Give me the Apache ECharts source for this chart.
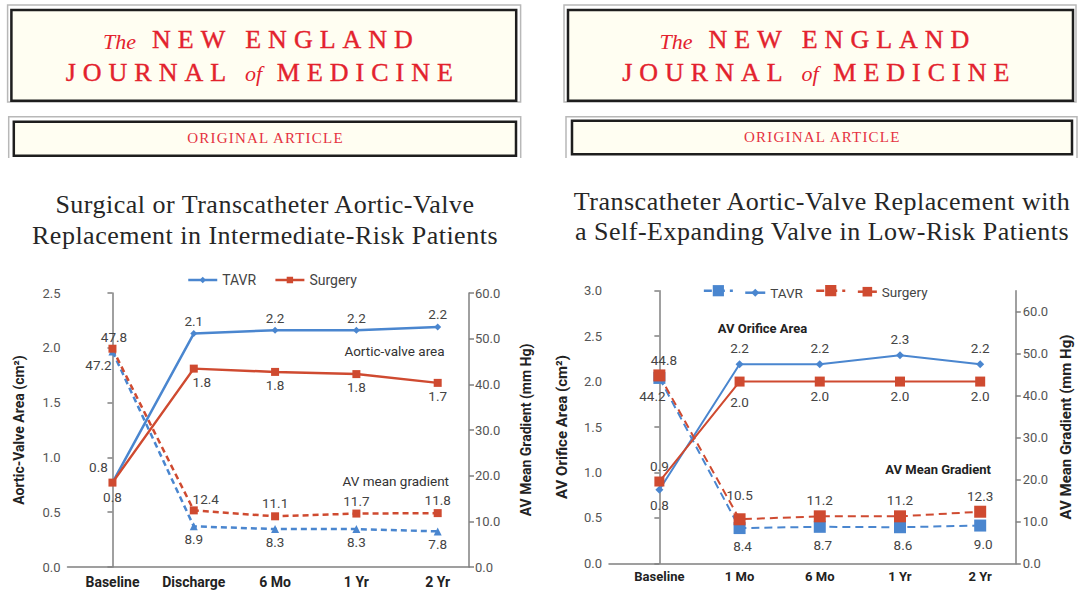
<!DOCTYPE html>
<html><head><meta charset="utf-8">
<script src="https://cdn.jsdelivr.net/npm/echarts@6/dist/echarts.min.js"></script>
<style>
html,body{margin:0;padding:0;background:#fff;}
#c{width:1080px;height:596px;}
text[fill="#e3222d"]{letter-spacing:7px;}
text[fill="#e5323f"]{letter-spacing:1.2px;}
text[fill="#262626"]{letter-spacing:0.5px;}
</style></head><body><div id="c"></div>
<script>
// ---------- Left panel: intermediate-risk patients ----------
const catsL = ['Baseline', 'Discharge', '6 Mo', '1 Yr', '2 Yr'];
const areaTavrL = [0.77, 2.13, 2.16, 2.16, 2.19];
const areaSurgL = [0.77, 1.81, 1.78, 1.76, 1.68];
const gradTavrL = [47.2, 8.9, 8.3, 8.3, 7.8];
const gradSurgL = [47.8, 12.4, 11.1, 11.7, 11.8];
// ---------- Right panel: low-risk patients ----------
const catsR = ['Baseline', '1 Mo', '6 Mo', '1 Yr', '2 Yr'];
const areaTavrR = [0.81, 2.19, 2.19, 2.29, 2.19];
const areaSurgR = [0.9, 2.0, 2.0, 2.0, 2.0];
const gradTavrR = [44.2, 8.4, 8.7, 8.6, 9.0];
const gradSurgR = [44.8, 10.5, 11.2, 11.2, 12.3];
const gradTicksR = [0, 10, 20, 30, 40, 50, 60];

const F = "Roboto, sans-serif";
const SERIF = "'Liberation Serif', serif";
const BLUE = '#4a86cf', RED = '#cf4a30', AX = '#808080';

function pts(vals, place) {
  return vals.map((v, i) => {
    const p = place(i);
    return { value: [i, v], label: { position: p[0], offset: [p[1], p[2]] } };
  });
}
const lab = (size) => ({ show: true, fontSize: size, color: '#444', fontFamily: F, distance: 5,
  formatter: p => p.value[1].toFixed(1) });

function xAxis(gi, cats, min, max, size, margin) {
  return { type: 'value', gridIndex: gi, min: min, max: max,
    splitLine: { show: false }, axisTick: { show: false },
    axisLine: { show: true, onZero: false, lineStyle: { color: AX, width: 1.5 } },
    axisLabel: { customValues: cats.map((c, i) => i), formatter: v => cats[Math.round(v)] || '',
      fontWeight: 'bold', fontSize: size, color: '#222', fontFamily: F, margin: margin } };
}
function yAxis(gi, pos, min, max, interval, name, nameGap, nameSize, extra) {
  const a = { type: 'value', gridIndex: gi, position: pos, min: min, max: max, interval: interval,
    splitLine: { show: false },
    axisLine: { show: true, lineStyle: { color: AX, width: 1.5 } },
    axisTick: { show: true, length: 5, lineStyle: { color: AX, width: 1.5 } },
    axisLabel: { formatter: v => v.toFixed(1), fontSize: 13, color: '#555', fontFamily: F, margin: 7 },
    name: name, nameLocation: 'middle', nameRotate: 90, nameGap: nameGap,
    nameTextStyle: { fontWeight: 'bold', fontSize: nameSize, color: '#222', fontFamily: F } };
  if (extra) { Object.assign(a.axisLabel, extra.axisLabel || {}); Object.assign(a.axisTick, extra.axisTick || {}); }
  return a;
}

const headerText = (dx) => [
  { type: 'text', x: 136 + dx, y: 41, style: { text: 'The', fill: '#e3222e', font: 'italic 22px ' + SERIF, align: 'right', verticalAlign: 'middle' } },
  { type: 'text', x: 152 + dx, y: 39.5, style: { text: 'NEW ENGLAND', fill: '#e3222d', font: '26px ' + SERIF, align: 'left', verticalAlign: 'middle', stroke: '#e3222d', lineWidth: 0.4 } },
  { type: 'text', x: 65.7 + dx, y: 72.2, style: { text: 'JOURNAL', fill: '#e3222d', font: '26px ' + SERIF, align: 'left', verticalAlign: 'middle', stroke: '#e3222d', lineWidth: 0.4 } },
  { type: 'text', x: 245 + dx, y: 73.7, style: { text: 'of', fill: '#e3222e', font: 'italic 22px ' + SERIF, align: 'left', verticalAlign: 'middle' } },
  { type: 'text', x: 276.8 + dx, y: 72.2, style: { text: 'MEDICINE', fill: '#e3222d', font: '26px ' + SERIF, align: 'left', verticalAlign: 'middle', stroke: '#e3222d', lineWidth: 0.4 } }
];
const GRAY = '#b8b8b8', CREAM = '#fffef2', BLACK = '#1e1e1e';
const graphics = [
  // left header
  { type: 'rect', shape: { x: 7.6, y: 5, width: 513, height: 97 }, style: { fill: 'none', stroke: GRAY, lineWidth: 1.5 } },
  { type: 'rect', shape: { x: 11.4, y: 10, width: 504.8, height: 90.7 }, style: { fill: CREAM, stroke: BLACK, lineWidth: 2.5 } },
  { type: 'polyline', shape: { points: [[8.7, 158], [8.7, 116.7], [520.7, 116.7], [520.7, 158]] }, style: { fill: 'none', stroke: GRAY, lineWidth: 1.5 } },
  { type: 'rect', shape: { x: 13.8, y: 121.7, width: 502.2, height: 34 }, style: { fill: CREAM, stroke: BLACK, lineWidth: 2.5 } },
  // right header
  { type: 'rect', shape: { x: 564, y: 5, width: 512, height: 97 }, style: { fill: 'none', stroke: GRAY, lineWidth: 1.5 } },
  { type: 'rect', shape: { x: 568, y: 10, width: 505, height: 90.7 }, style: { fill: CREAM, stroke: BLACK, lineWidth: 2.5 } },
  { type: 'polyline', shape: { points: [[566, 158], [566, 116.7], [1077, 116.7], [1077, 158]] }, style: { fill: 'none', stroke: GRAY, lineWidth: 1.5 } },
  { type: 'rect', shape: { x: 572, y: 120.7, width: 500, height: 33.6 }, style: { fill: CREAM, stroke: BLACK, lineWidth: 2.5 } },
  ...headerText(0), ...headerText(556.5),
  { type: 'text', x: 265.5, y: 138.2, style: { text: 'ORIGINAL ARTICLE', fill: '#e5323f', font: '15px ' + SERIF, align: 'center', verticalAlign: 'middle' } },
  { type: 'text', x: 822.3, y: 136.6, style: { text: 'ORIGINAL ARTICLE', fill: '#e5323f', font: '15px ' + SERIF, align: 'center', verticalAlign: 'middle' } },
  // titles
  { type: 'text', x: 265, y: 204.5, style: { text: 'Surgical or Transcatheter Aortic-Valve', fill: '#262626', font: '26px ' + SERIF, align: 'center', verticalAlign: 'middle' } },
  { type: 'text', x: 265, y: 235.2, style: { text: 'Replacement in Intermediate-Risk Patients', fill: '#262626', font: '26px ' + SERIF, align: 'center', verticalAlign: 'middle' } },
  { type: 'text', x: 822, y: 201.2, style: { text: 'Transcatheter Aortic-Valve Replacement with', fill: '#262626', font: '26px ' + SERIF, align: 'center', verticalAlign: 'middle' } },
  { type: 'text', x: 822, y: 231.2, style: { text: 'a Self-Expanding Valve in Low-Risk Patients', fill: '#262626', font: '26px ' + SERIF, align: 'center', verticalAlign: 'middle' } },
  // in-plot annotations
  { type: 'text', x: 444.6, y: 350.7, style: { text: 'Aortic-valve area', fill: '#333', font: '13.5px ' + F, align: 'right', verticalAlign: 'middle' } },
  { type: 'text', x: 449, y: 481, style: { text: 'AV mean gradient', fill: '#333', font: '13.5px ' + F, align: 'right', verticalAlign: 'middle' } },
  { type: 'text', x: 762.5, y: 328, style: { text: 'AV Orifice Area', fill: '#222', font: 'bold 13px ' + F, align: 'center', verticalAlign: 'middle' } },
  { type: 'text', x: 991, y: 469, style: { text: 'AV Mean Gradient', fill: '#222', font: 'bold 13px ' + F, align: 'right', verticalAlign: 'middle' } }
];

const legendBase = { orient: 'horizontal', padding: 0, selectedMode: false,
  lineStyle: { width: 2.5 }, textStyle: { fontSize: 13.5, color: '#444', fontFamily: F } };
const legends = [
  Object.assign({}, legendBase, { data: ['TAVR', 'Surgery'], left: 187, top: 273, itemWidth: 29, itemHeight: 8, itemGap: 18,
    textStyle: { fontSize: 14, color: '#444', fontFamily: F } }),
  Object.assign({}, legendBase, { data: ['TAVR gradient, low risk'], left: 702.6, top: 283.7, itemWidth: 29, itemHeight: 14, formatter: () => '' }),
  Object.assign({}, legendBase, { data: ['TAVR, low risk'], left: 744, top: 285.7, itemWidth: 20, itemHeight: 10, formatter: () => 'TAVR' }),
  Object.assign({}, legendBase, { data: ['Surgery gradient, low risk'], left: 815, top: 283.7, itemWidth: 29, itemHeight: 14, formatter: () => '' }),
  Object.assign({}, legendBase, { data: ['Surgery, low risk'], left: 856.6, top: 284.7, itemWidth: 19, itemHeight: 12, formatter: () => 'Surgery' })
];

const option = {
  animation: false,
  textStyle: { fontFamily: F },
  graphic: graphics,
  legend: legends,
  grid: [
    { left: 67.5, right: 1080 - 469, top: 293, bottom: 596 - 567 },
    { left: 609, right: 1080 - 1015.8, top: 290.7, bottom: 596 - 563.3 }
  ],
  xAxis: [
    xAxis(0, catsL, -0.553, 4.385, 14, 8),
    xAxis(1, catsR, -0.628, 4.444, 13, 7)
  ],
  yAxis: [
    yAxis(0, 'left', 0, 2.5, 0.5, 'Aortic-Valve Area (cm²)', 42, 14),
    yAxis(0, 'right', 0, 60, 10, 'AV Mean Gradient (mm Hg)', 50, 14, { axisLabel: { margin: 6 } }),
    yAxis(1, 'left', 0, 3, 0.5, 'AV Orifice Area (cm²)', 40, 15),
    yAxis(1, 'right', 0, 65, 10, 'AV Mean Gradient (mm Hg)', 43, 15,
      { axisLabel: { customValues: gradTicksR }, axisTick: { customValues: gradTicksR } })
  ],
  series: [
    // left panel
    { name: 'TAVR', type: 'line', xAxisIndex: 0, yAxisIndex: 0, color: BLUE, symbol: 'diamond', symbolSize: 7,
      lineStyle: { width: 2.5 }, label: lab(13.5),
      data: pts(areaTavrL, i => i === 0 ? ['top', -14, 0] : ['top', 0, 3]) },
    { name: 'TAVR gradient', type: 'line', xAxisIndex: 0, yAxisIndex: 1, color: BLUE, symbol: 'triangle', symbolSize: 8,
      lineStyle: { width: 2.5, type: [6, 4] }, label: lab(13.5),
      data: pts(gradTavrL, i => i === 0 ? ['bottom', -14, -2.4] : ['bottom', 0, -3]) },
    { name: 'Surgery gradient', type: 'line', xAxisIndex: 0, yAxisIndex: 1, color: RED, symbol: 'rect', symbolSize: 8,
      lineStyle: { width: 2.5, type: [6, 4] }, label: lab(13.5),
      data: pts(gradSurgL, i => i === 0 ? ['top', 1.5, 4.6] : i === 1 ? ['top', 12, 5] : ['top', 0, 3]) },
    { name: 'Surgery', type: 'line', xAxisIndex: 0, yAxisIndex: 0, color: RED, symbol: 'rect', symbolSize: 8,
      lineStyle: { width: 2.5 }, label: lab(13.5),
      data: pts(areaSurgL, i => i === 0 ? ['bottom', 0, -2] : i === 1 ? ['bottom', 8, -3] : ['bottom', 0, -3]) },
    // right panel
    { name: 'TAVR, low risk', type: 'line', xAxisIndex: 1, yAxisIndex: 2, color: BLUE, symbol: 'diamond', symbolSize: 8,
      lineStyle: { width: 2 }, label: lab(13.5),
      data: pts(areaTavrR, i => i === 0 ? ['bottom', 0, -1] : ['top', 0, 0]) },
    { name: 'TAVR gradient, low risk', type: 'line', xAxisIndex: 1, yAxisIndex: 3, color: BLUE, symbol: 'rect', symbolSize: 12,
      lineStyle: { width: 2, type: [8, 5] }, label: lab(13.5),
      data: pts(gradTavrR, i => i === 0 ? ['bottom', -7, 0] : ['bottom', 3, 0]) },
    { name: 'Surgery gradient, low risk', type: 'line', xAxisIndex: 1, yAxisIndex: 3, color: RED, symbol: 'rect', symbolSize: 12,
      lineStyle: { width: 2, type: [8, 5] }, label: lab(13.5),
      data: pts(gradSurgR, i => i === 0 ? ['top', 4.5, 3] : i === 1 ? ['top', 0, -6] : ['top', 0, 2]) },
    { name: 'Surgery, low risk', type: 'line', xAxisIndex: 1, yAxisIndex: 2, color: RED, symbol: 'rect', symbolSize: 10,
      lineStyle: { width: 2 }, label: lab(13.5),
      data: pts(areaSurgR, i => i === 0 ? ['top', 0, 1] : i === 1 ? ['bottom', 0, 3] : ['bottom', 0, -3]) }
  ]
};
const chart = echarts.init(document.getElementById('c'), null, { renderer: 'svg' });
chart.setOption(option);
</script></body></html>
